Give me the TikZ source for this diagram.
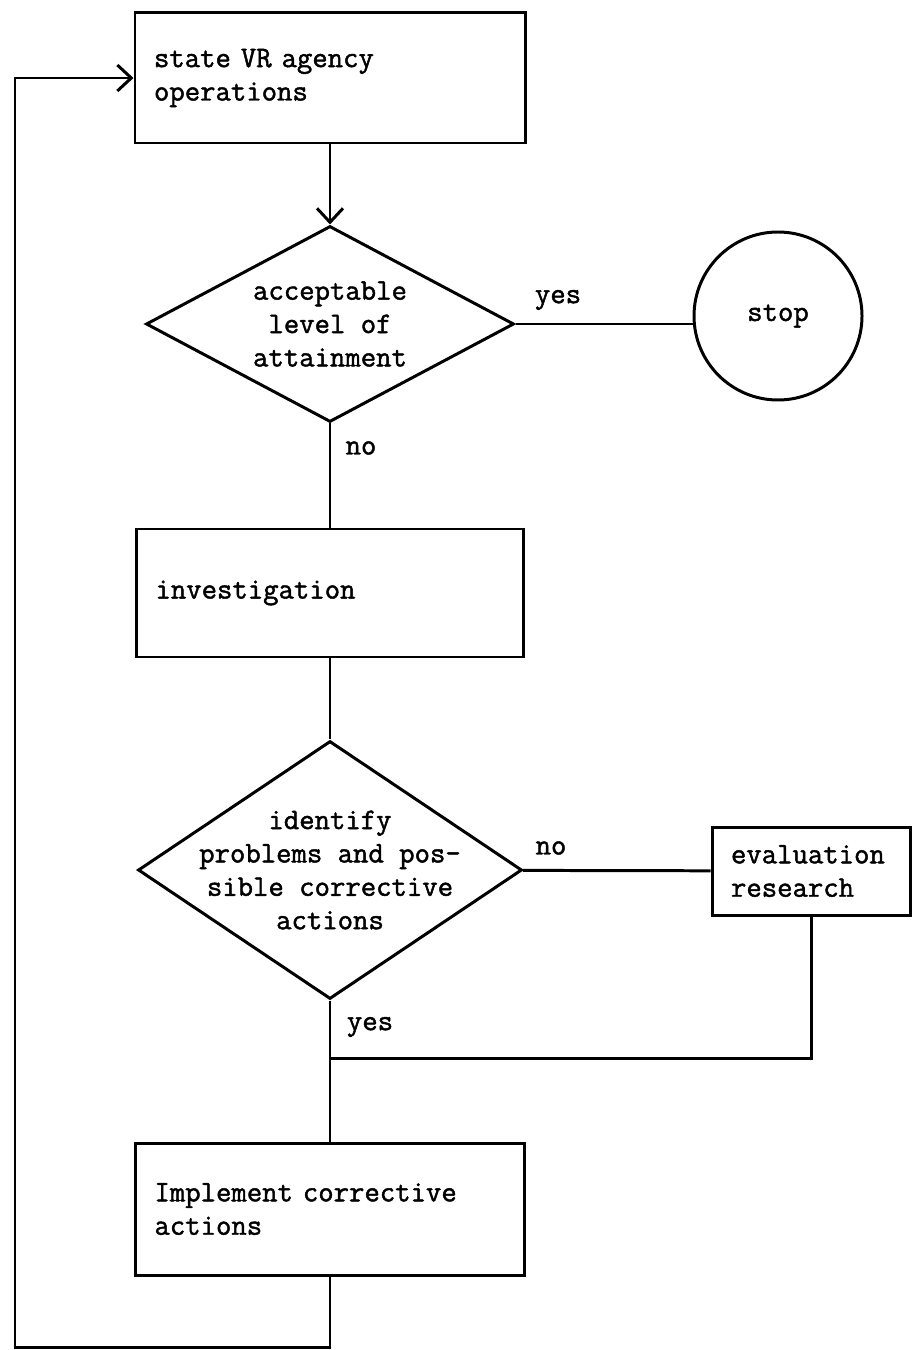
\documentclass[tikz,border=0pt]{standalone}
\usepackage{fontspec}
\setmonofont{Latin Modern Mono}[FakeBold=1.5]
\usetikzlibrary{shapes.geometric,arrows.meta}

\begin{document}
\begin{tikzpicture}[line width=1.7pt, font=\ttfamily\fontsize{17}{19}\selectfont,
    every node/.style={inner sep=0pt},
    block/.style={rectangle, draw, align=left, inner xsep=0.38cm},
    decision/.style={diamond, draw},
    arr/.style={-{Straight Barb[length=0.28cm,width=0.52cm]}}]
  \useasboundingbox (0,0) rectangle (18.26,-27);
  \node (ops) at (6.6,-1.56) [block, text width=7.04cm, minimum height=2.6cm] {state VR agency\\operations};
  \node (accept) at (6.6,-6.48) [decision, minimum width=7.36cm, minimum height=3.92cm,
    label={[align=center]center:acceptable\\level of\\attainment}] {};
  \node (stop) at (15.56,-6.32) [circle, draw, minimum size=3.36cm] {stop};
  \node (inv) at (6.6,-11.86) [block, text width=6.98cm, minimum height=2.56cm] {investigation};
  \node (ident) at (6.6,-17.4) [decision, minimum width=7.68cm, minimum height=5.16cm,
    label={[align=center]center:identify\\problems and pos-\\sible corrective\\actions}] {};
  \node (eval) at (16.22,-17.42) [block, text width=3.2cm, minimum height=1.76cm] {evaluation\\research};
  \node (impl) at (6.6,-24.18) [block, text width=7.02cm, minimum height=2.64cm] {Implement corrective\\actions};
  \coordinate (merge) at (6.6,-21.16);
  \coordinate (back) at (0.3,-26.94);
  % branch labels
  \node (yes1) at (11.16,-6.0) {yes};
  \node (no1) at (7.22,-8.96) {no};
  \node (no2) at (11.02,-16.96) {no};
  \node (yes2) at (7.4,-20.54) {yes};
  \draw[arr] (ops) -- (accept);
  \draw (accept.east) -- (accept.east -| stop.west);
  \foreach \source/\dest in {accept/inv, inv/ident, ident/impl, ident/eval}
    \path (\source) edge (\dest);
  \draw (eval) |- (merge);
  \draw[arr] (impl) |- (back) |- (ops);
\end{tikzpicture}
\end{document}
